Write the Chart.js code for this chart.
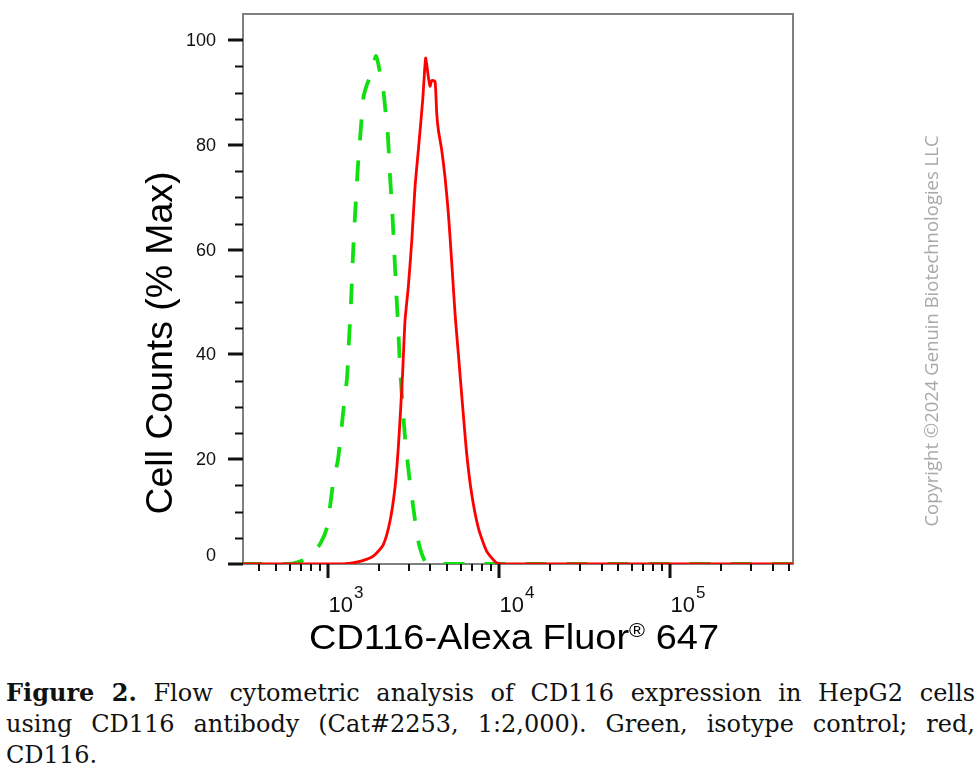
<!DOCTYPE html>
<html>
<head>
<meta charset="utf-8">
<script src="https://cdn.jsdelivr.net/npm/chart.js@4/dist/chart.umd.min.js"></script>
<style>
  body { margin: 0; background: #fff; width: 980px; height: 772px; overflow: hidden; position: relative; }
  #wrap { position: absolute; left: 0; top: 0; width: 980px; height: 665px; }
  #caption {
    position: absolute; left: 6px; top: 677px; width: 969px;
    font-family: "DejaVu Serif", serif; font-size: 24px; line-height: 31px;
    color: #111;
  }
  #caption .full { text-align: justify; text-align-last: justify; white-space: nowrap; }
</style>
</head>
<body>
<div id="wrap"><canvas id="myChart" width="980" height="665"></canvas></div>
<div id="caption">
  <div class="full"><b>Figure 2.</b> Flow cytometric analysis of CD116 expression in HepG2 cells</div>
  <div class="full">using CD116 antibody (Cat#2253, 1:2,000). Green, isotype control; red,</div>
  <div>CD116.</div>
</div>
<script>
// isotype control (green, dashed)
const isotypeX = [316, 603, 719, 812, 904, 993, 1077, 1152, 1232, 1300, 1327, 1372, 1416, 1462, 1514, 1549, 1585, 1620, 1700, 1796, 1921, 2028, 2120, 2198, 2249, 2289, 2320, 2374, 2406, 2515, 2594, 2655, 2753, 2840, 3009, 3176, 3396, 3717, 4083, 527000];
const isotypeY = [0, 0, 0.7, 2, 3.8, 7, 15.3, 20, 28.7, 35.5, 41, 50, 60.5, 68.9, 77.1, 81, 85.4, 89, 91.5, 93.4, 97, 93.8, 90.5, 85.4, 82.3, 77.8, 74, 68.9, 65.6, 52.9, 44.6, 37.5, 29.9, 24.1, 16.5, 10.7, 4.3, 0.5, 0, 0];

// CD116 (red, solid)
const cd116X = [316, 1232, 1549, 1852, 2120, 2320, 2481, 2594, 2680, 2753, 2840, 2969, 3108, 3249, 3396, 3603, 3692, 3752, 3886, 3976, 4069, 4253, 4351, 4446, 4654, 4866, 5087, 5326, 5568, 5821, 6174, 6517, 6970, 7619, 8531, 9761, 10914, 527000];
const cd116Y = [0, 0, 0.5, 1.5, 3.7, 8.2, 14.6, 22.2, 29.9, 36.9, 46.5, 53, 61.6, 72, 79, 88.6, 94, 96.6, 93, 91.2, 92.3, 92.1, 86, 82.9, 79, 73.8, 67, 57.5, 47.8, 40.1, 29.9, 21, 13.3, 6.9, 2.4, 0.2, 0, 0];

// axes
const xMin = 316.2;
const xMax = 527000;
const yMin = 0;
const yMax = 105;
const xMajorTicks = [1000, 10000, 100000];
const xMajorExp = ["3", "4", "5"];
const yMajorTicks = [0, 20, 40, 60, 80, 100];
const yMajorLabels = ["0", "20", "40", "60", "80", "100"];
const yTitle = "Cell Counts (% Max)";
const xTitleMain = "CD116-Alexa Fluor";
const xTitleMark = "\u00AE";
const xTitleEnd = " 647";
const copyrightText = "Copyright \u00A92024 Genuin Biotechnologies LLC";

function toPoints(xs, ys) {
  let pts = [];
  for (let i = 0; i < xs.length; i++) {
    pts.push({ x: xs[i], y: ys[i] });
  }
  return pts;
}

// minor tick positions 2..9 x 10^n inside the range
let xMinorTicks = [];
for (let d = 100; d <= 100000; d *= 10) {
  for (let k = 2; k <= 9; k++) {
    const v = k * d;
    if (v > xMin && v < xMax) xMinorTicks.push(v);
  }
}
let yMinorTicks = [];
for (let v = 5; v < 105; v += 5) {
  if (v % 20 !== 0) yMinorTicks.push(v);
}

const frame = {
  id: "frame",
  beforeDatasetsDraw(chart) {
    const { ctx, chartArea: { left, top, right, bottom } } = chart;
    ctx.save();
    ctx.strokeStyle = "#808080";
    ctx.lineWidth = 2;
    ctx.beginPath();
    ctx.moveTo(left + 1, bottom);
    ctx.lineTo(left + 1, top);
    ctx.lineTo(right, top);
    ctx.lineTo(right, bottom);
    ctx.lineTo(left, bottom);
    ctx.stroke();
    ctx.restore();
  },
  afterDraw(chart) {
    const { ctx, chartArea: { left, top, right, bottom } } = chart;
    const xs = chart.scales.x;
    const ys = chart.scales.y;
    ctx.save();
    ctx.strokeStyle = "#111";
    ctx.fillStyle = "#111";

    // x ticks
    xMajorTicks.forEach((v) => {
      const px = Math.round(xs.getPixelForValue(v));
      ctx.lineWidth = 3;
      ctx.beginPath();
      ctx.moveTo(px, bottom);
      ctx.lineTo(px, bottom + 14);
      ctx.stroke();
    });
    xMinorTicks.forEach((v) => {
      const px = Math.round(xs.getPixelForValue(v));
      ctx.lineWidth = 2;
      ctx.beginPath();
      ctx.moveTo(px, bottom);
      ctx.lineTo(px, bottom + 7);
      ctx.stroke();
    });

    // y ticks
    yMajorTicks.forEach((v) => {
      const py = Math.round(ys.getPixelForValue(v));
      ctx.lineWidth = 3;
      ctx.beginPath();
      ctx.moveTo(left - 14, py);
      ctx.lineTo(left + 1, py);
      ctx.stroke();
    });
    yMinorTicks.forEach((v) => {
      const py = Math.round(ys.getPixelForValue(v)) + 0.5;
      ctx.lineWidth = 2;
      ctx.beginPath();
      ctx.moveTo(left - 7, py);
      ctx.lineTo(left + 1, py);
      ctx.stroke();
    });

    // y labels
    ctx.font = "18px 'Liberation Sans', Arial, sans-serif";
    ctx.textAlign = "right";
    ctx.textBaseline = "middle";
    yMajorTicks.forEach((v, i) => {
      let py = ys.getPixelForValue(v);
      if (v === 0) py -= 9;
      ctx.fillText(yMajorLabels[i], left - 26, py + 1);
    });

    // x labels 10^n
    ctx.textAlign = "left";
    ctx.textBaseline = "alphabetic";
    xMajorTicks.forEach((v, i) => {
      const px = xs.getPixelForValue(v);
      ctx.font = "22px 'Liberation Sans', Arial, sans-serif";
      ctx.fillText("10", px + 1, bottom + 48);
      const w = ctx.measureText("10").width;
      ctx.font = "17px 'Liberation Sans', Arial, sans-serif";
      ctx.fillText(xMajorExp[i], px + 2 + w, bottom + 34);
    });

    // x title
    ctx.fillStyle = "#000";
    const mainFont = "35px 'Liberation Sans', Arial, sans-serif";
    const markFont = "20px 'Liberation Sans', Arial, sans-serif";
    ctx.font = mainFont;
    const w1 = ctx.measureText(xTitleMain).width;
    const w3 = ctx.measureText(xTitleEnd).width;
    ctx.font = markFont;
    const w2 = ctx.measureText(xTitleMark).width;
    const total = w1 + w2 + w3;
    ctx.save();
    ctx.translate(309, bottom + 85);
    ctx.scale(410 / total, 1);
    ctx.font = mainFont;
    ctx.fillText(xTitleMain, 0, 0);
    ctx.font = markFont;
    ctx.fillText(xTitleMark, w1, -12);
    ctx.font = mainFont;
    ctx.fillText(xTitleEnd, w1 + w2, 0);
    ctx.restore();

    // y title
    ctx.save();
    ctx.font = "36px 'Liberation Sans', Arial, sans-serif";
    const wy = ctx.measureText(yTitle).width;
    ctx.translate(172, 343);
    ctx.rotate(-Math.PI / 2);
    ctx.scale(343 / wy, 1);
    ctx.textAlign = "center";
    ctx.fillText(yTitle, 0, 0);
    ctx.restore();

    // copyright note
    ctx.save();
    ctx.font = "18.5px 'Open Sans', sans-serif";
    ctx.fillStyle = "#a9a9a9";
    ctx.translate(938, 331);
    ctx.rotate(-Math.PI / 2);
    ctx.textAlign = "center";
    ctx.fillText(copyrightText, 0, 0);
    ctx.restore();

    ctx.restore();
  },
};

const data = {
  datasets: [
    {
      label: "CD116",
      data: toPoints(cd116X, cd116Y),
      borderColor: "#ff0000",
      borderWidth: 2.8,
      showLine: true,
      pointRadius: 0,
      tension: 0.2,
      order: 0,
    },
    {
      label: "Isotype control",
      data: toPoints(isotypeX, isotypeY),
      borderColor: "#10e010",
      borderWidth: 3.8,
      borderDash: [21, 20],
      showLine: true,
      pointRadius: 0,
      tension: 0.2,
      order: 1,
    },
  ],
};

const config = {
  type: "scatter",
  data: data,
  options: {
    responsive: false,
    animation: false,
    devicePixelRatio: 1,
    layout: { padding: { left: 242, right: 187, top: 14, bottom: 101 } },
    plugins: { legend: { display: false }, tooltip: { enabled: false } },
    scales: {
      x: { type: "logarithmic", min: xMin, max: xMax, display: false },
      y: { type: "linear", min: yMin, max: yMax, display: false },
    },
  },
  plugins: [frame],
};

const myChart = new Chart(document.getElementById("myChart"), config);
</script>
</body>
</html>
